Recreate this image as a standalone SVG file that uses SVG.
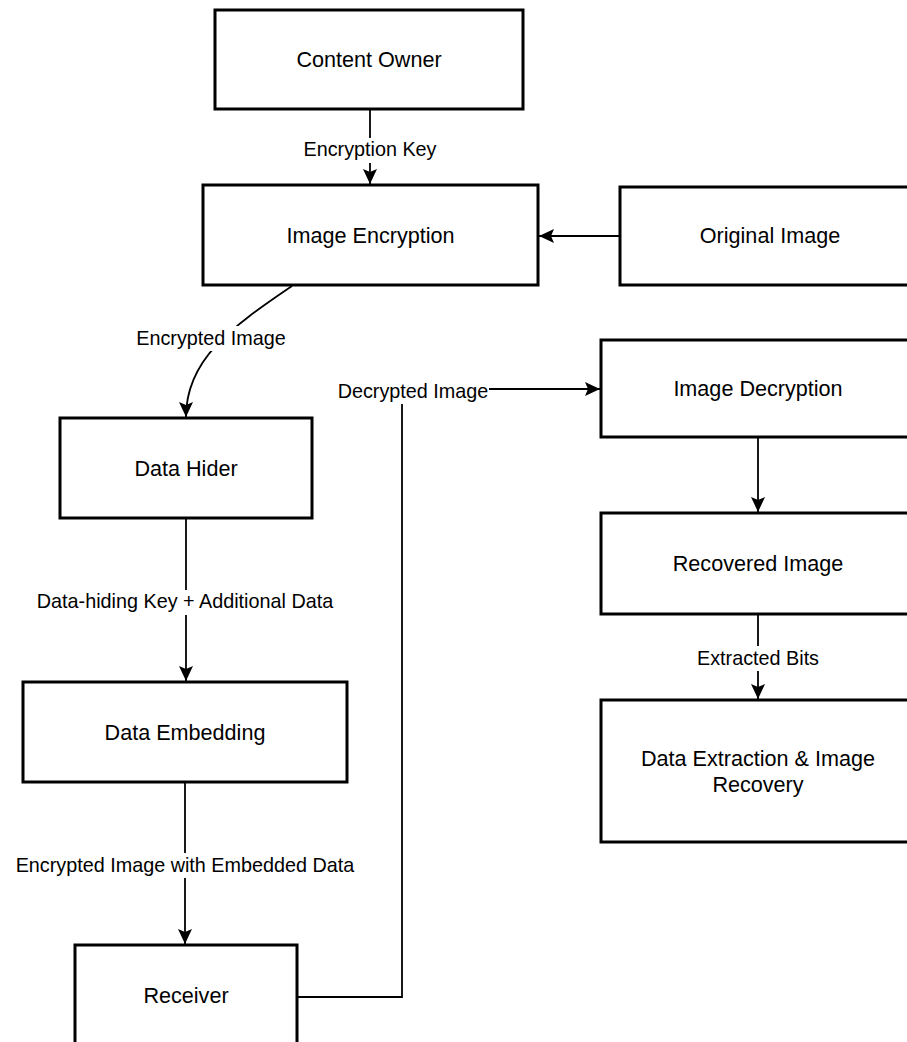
<svg xmlns="http://www.w3.org/2000/svg" width="907" height="1042" viewBox="0 0 907 1042">
<style>
.box{fill:#fff;stroke:#000;stroke-width:3}
.nt{font-family:"Liberation Sans",Arial,sans-serif;font-size:21.6px;fill:#000;text-anchor:middle}
.et{font-family:"Liberation Sans",Arial,sans-serif;font-size:19.8px;fill:#000;text-anchor:middle}
.edge{fill:none;stroke:#000;stroke-width:1.8}
.lbg{fill:#fff}
</style>
<defs>
<marker id="arr" markerUnits="userSpaceOnUse" markerWidth="16" markerHeight="16" viewBox="0 0 16 14" refX="15" refY="7" orient="auto">
<path d="M0,0 L15,7 L0,14 L3,7 z" fill="#000"/>
</marker>
</defs>
<rect width="907" height="1042" fill="#fff"/>
<g id="connectors">
<path class="edge" d="M370,109 V184" marker-end="url(#arr)"/>
<path class="edge" d="M620,236 H539" marker-end="url(#arr)"/>
<path class="edge" d="M292,286 C230,328 186,360 186,417" marker-end="url(#arr)"/>
<path class="edge" d="M186,518 V681" marker-end="url(#arr)"/>
<path class="edge" d="M185,782 V944" marker-end="url(#arr)"/>
<path class="edge" d="M297,997 H402 V389 H600" marker-end="url(#arr)"/>
<path class="edge" d="M758,437 V512" marker-end="url(#arr)"/>
<path class="edge" d="M758,614 V699" marker-end="url(#arr)"/>
<rect class="lbg" x="300" y="138" width="140" height="25"/>
<text class="et" x="370" y="156">Encryption Key</text>
<rect class="lbg" x="134" y="326" width="154" height="25"/>
<text class="et" x="211" y="345">Encrypted Image</text>
<rect class="lbg" x="337" y="379" width="152" height="25"/>
<text class="et" x="413" y="398">Decrypted Image</text>
<rect class="lbg" x="33" y="590" width="306" height="25"/>
<text class="et" x="185" y="608">Data-hiding Key + Additional Data</text>
<rect class="lbg" x="12" y="853" width="346" height="25"/>
<text class="et" x="185" y="872">Encrypted Image with Embedded Data</text>
<rect class="lbg" x="693" y="646" width="130" height="25"/>
<text class="et" x="758" y="665">Extracted Bits</text>
</g>
<g id="content-owner"><rect class="box" x="215" y="10" width="308" height="99"/><text class="nt" x="369" y="67">Content Owner</text></g>
<g id="image-encryption"><rect class="box" x="203" y="185" width="335" height="100"/><text class="nt" x="370.5" y="243">Image Encryption</text></g>
<g id="original-image"><rect class="box" x="620" y="187" width="300" height="98"/><text class="nt" x="770" y="243">Original Image</text></g>
<g id="data-hider"><rect class="box" x="60" y="418" width="252" height="100"/><text class="nt" x="186" y="476">Data Hider</text></g>
<g id="data-embedding"><rect class="box" x="23" y="682" width="324" height="100"/><text class="nt" x="185" y="740">Data Embedding</text></g>
<g id="receiver"><rect class="box" x="75" y="945" width="222" height="100"/><text class="nt" x="186" y="1003">Receiver</text></g>
<g id="image-decryption"><rect class="box" x="601" y="340" width="314" height="97"/><text class="nt" x="758" y="396">Image Decryption</text></g>
<g id="recovered-image"><rect class="box" x="601" y="513" width="314" height="101"/><text class="nt" x="758" y="571">Recovered Image</text></g>
<g id="data-extraction"><rect class="box" x="601" y="700" width="314" height="142"/><text class="nt" x="758" y="766">Data Extraction &amp; Image</text><text class="nt" x="758" y="792">Recovery</text></g>
</svg>
